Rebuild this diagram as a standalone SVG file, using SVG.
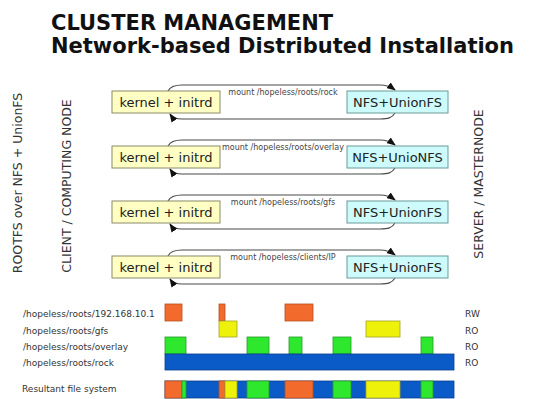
<svg xmlns="http://www.w3.org/2000/svg" width="544" height="399" viewBox="0 0 544 399">
  <style>
    text { font-family: "DejaVu Sans", "Liberation Sans", sans-serif; fill: #1a1a1a; }
    .title { font-size: 21px; font-weight: bold; fill: #111; }
    .side { font-size: 12.5px; fill: #333; }
    .boxtxt { font-size: 13px; text-anchor: middle; fill: #222; }
    .mnt { font-size: 8px; text-anchor: middle; fill: #444; }
    .lbl { font-size: 9px; fill: #333; }
    .kern { fill: #ffffc4; stroke: #8a8a6a; stroke-width: 1; }
    .nfs { fill: #cdfbfb; stroke: #6a9a9a; stroke-width: 1; }
    .conn { fill: none; stroke: #4a4a4a; stroke-width: 1.1; marker-end: url(#arr); }
    .or { fill: #f26a2c; stroke: #b4501f; stroke-width: 0.8; }
    .ye { fill: #eef20a; stroke: #a4a428; stroke-width: 0.8; }
    .gr { fill: #2ee82e; stroke: #2a9a2a; stroke-width: 0.8; }
    .bl { fill: #0a5ac8; stroke: #0a3c8a; stroke-width: 0.8; }
  </style>
  <defs>
    <marker id="arr" markerWidth="9" markerHeight="7" refX="8" refY="3.5" orient="auto" markerUnits="userSpaceOnUse">
      <path d="M0,0 L9,3.5 L0,7 z" fill="#111"/>
    </marker>
  </defs>

  <rect width="544" height="399" fill="#fff"/>

  <!-- heading -->
  <text class="title" x="51" y="30">CLUSTER MANAGEMENT</text>
  <text class="title" x="51" y="53">Network-based Distributed Installation</text>

  <!-- vertical side captions -->
  <text class="side" text-anchor="middle" transform="translate(22,183) rotate(-90)">ROOTFS over NFS + UnionFS</text>
  <text class="side" text-anchor="middle" transform="translate(71,186) rotate(-90)">CLIENT / COMPUTING NODE</text>
  <text class="side" text-anchor="middle" transform="translate(483,184) rotate(-90)">SERVER / MASTERNODE</text>

  <!-- mount connectors -->
  <g id="connectors">
    <path class="conn" d="M168 91 C170 87 174 85 182 85 L380 85 C387 85 391 87 395 90"/>
    <path class="conn" d="M395 113 C392 118 388 119 380 119 L182 119 C176 119 172 117 170 114"/>
    <text class="mnt" x="283" y="95">mount /hopeless/roots/rock</text>

    <path class="conn" d="M168 146 C170 142 174 140 182 140 L380 140 C387 140 391 142 395 145"/>
    <path class="conn" d="M395 168 C392 173 388 174 380 174 L182 174 C176 174 172 172 170 169"/>
    <text class="mnt" x="283" y="150">mount /hopeless/roots/overlay</text>

    <path class="conn" d="M168 201 C170 197 174 195 182 195 L380 195 C387 195 391 197 395 200"/>
    <path class="conn" d="M395 223 C392 228 388 229 380 229 L182 229 C176 229 172 227 170 224"/>
    <text class="mnt" x="283" y="205">mount /hopeless/roots/gfs</text>

    <path class="conn" d="M168 256 C170 252 174 250 182 250 L380 250 C387 250 391 252 395 255"/>
    <path class="conn" d="M395 278 C392 283 388 284 380 284 L182 284 C176 284 172 282 170 279"/>
    <text class="mnt" x="283" y="260">mount /hopeless/clients/IP</text>
  </g>

  <!-- client side boot images -->
  <g id="client1"><rect class="kern" x="112" y="91" width="108" height="22"/><text class="boxtxt" x="166" y="107">kernel + initrd</text></g>
  <g id="client2"><rect class="kern" x="112" y="146" width="108" height="22"/><text class="boxtxt" x="166" y="162">kernel + initrd</text></g>
  <g id="client3"><rect class="kern" x="112" y="201" width="108" height="22"/><text class="boxtxt" x="166" y="217">kernel + initrd</text></g>
  <g id="client4"><rect class="kern" x="112" y="256" width="108" height="22"/><text class="boxtxt" x="166" y="272">kernel + initrd</text></g>

  <!-- server side exports -->
  <g id="server1"><rect class="nfs" x="347" y="91" width="101" height="22"/><text class="boxtxt" x="397.5" y="107">NFS+UnionFS</text></g>
  <g id="server2"><rect class="nfs" x="347" y="146" width="101" height="22"/><text class="boxtxt" x="397.5" y="162">NFS+UnioNFS</text></g>
  <g id="server3"><rect class="nfs" x="347" y="201" width="101" height="22"/><text class="boxtxt" x="397.5" y="217">NFS+UnionFS</text></g>
  <g id="server4"><rect class="nfs" x="347" y="256" width="101" height="22"/><text class="boxtxt" x="397.5" y="272">NFS+UnionFS</text></g>

  <!-- layer chart -->
  <g id="layer-labels">
    <text class="lbl" x="23" y="317">/hopeless/roots/192.168.10.1</text>
    <text class="lbl" x="23" y="334">/hopeless/roots/gfs</text>
    <text class="lbl" x="23" y="350">/hopeless/roots/overlay</text>
    <text class="lbl" x="23" y="366">/hopeless/roots/rock</text>
    <text class="lbl" x="22" y="392">Resultant file system</text>
    <text class="lbl" x="465" y="317">RW</text>
    <text class="lbl" x="465" y="334">RO</text>
    <text class="lbl" x="465" y="350">RO</text>
    <text class="lbl" x="465" y="366">RO</text>
  </g>

  <g id="layer-rw">
    <rect class="or" x="165" y="304" width="17" height="17"/>
    <rect class="or" x="219" y="304" width="6" height="17"/>
    <rect class="or" x="285" y="304" width="28" height="17"/>
  </g>
  <g id="layer-gfs">
    <rect class="ye" x="219" y="321" width="18" height="16"/>
    <rect class="ye" x="366" y="321" width="34" height="16"/>
  </g>
  <g id="layer-overlay">
    <rect class="gr" x="165" y="337" width="21" height="17"/>
    <rect class="gr" x="247" y="337" width="22" height="17"/>
    <rect class="gr" x="289" y="337" width="13" height="17"/>
    <rect class="gr" x="333" y="337" width="18" height="17"/>
    <rect class="gr" x="421" y="337" width="12" height="17"/>
  </g>
  <g id="layer-rock">
    <rect class="bl" x="165" y="354" width="289" height="16"/>
  </g>

  <!-- merged view -->
  <g id="resultant">
    <rect class="bl" x="165" y="381" width="289" height="17"/>
    <rect class="or" x="165" y="381" width="17" height="17"/>
    <rect class="gr" x="182" y="381" width="4" height="17"/>
    <rect class="or" x="219" y="381" width="6" height="17"/>
    <rect class="ye" x="225" y="381" width="12" height="17"/>
    <rect class="gr" x="247" y="381" width="22" height="17"/>
    <rect class="or" x="285" y="381" width="28" height="17"/>
    <rect class="gr" x="333" y="381" width="18" height="17"/>
    <rect class="ye" x="366" y="381" width="34" height="17"/>
    <rect class="gr" x="421" y="381" width="12" height="17"/>
  </g>
</svg>
